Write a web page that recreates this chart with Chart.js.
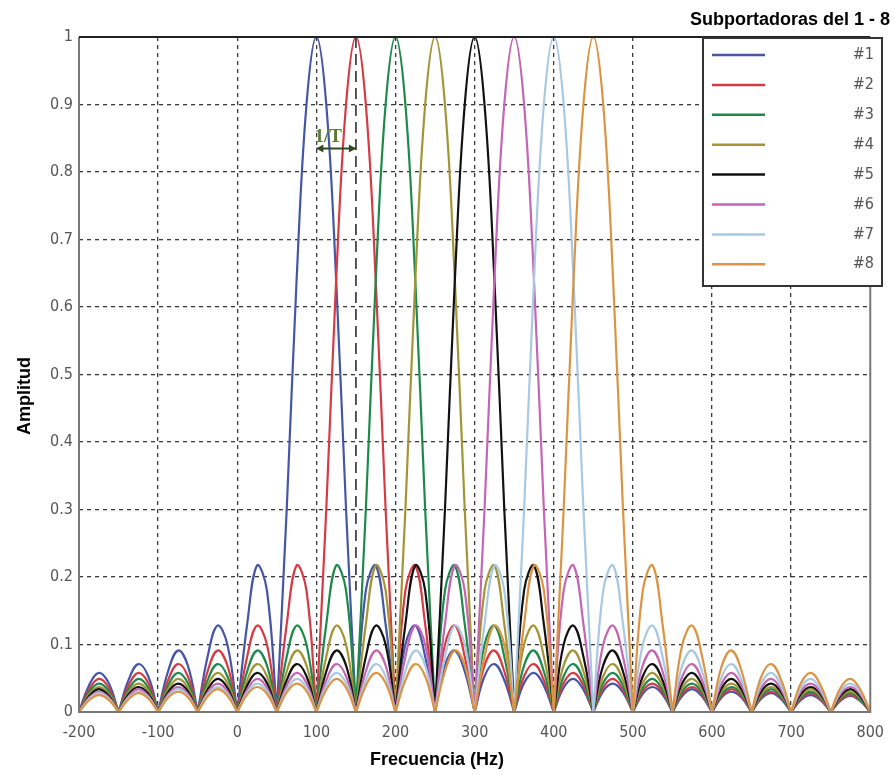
<!DOCTYPE html>
<html>
<head>
<meta charset="utf-8">
<script src="https://cdn.jsdelivr.net/npm/chart.js@4.4.1/dist/chart.umd.min.js"></script>
<style>
  html, body { margin: 0; padding: 0; background: #fff; }
  #wrap { width: 895px; height: 775px; }
</style>
</head>
<body>
<div id="wrap"><canvas id="ofdmChart"></canvas></div>
<script>
const subcarriers = ['#1', '#2', '#3', '#4', '#5', '#6', '#7', '#8'];
const centres = [100, 150, 200, 250, 300, 350, 400, 450];
const colours = ['#4656a6', '#d63a44', '#1d8a4c', '#a39436', '#111111', '#c466b4', '#a9c9e2', '#dc9444'];

// shape of one subcarrier: amplitude vs distance from its centre (Hz)
const lobeOffsets = [
  0, 12.5, 25, 37.5, 50, 62.5, 75, 87.5, 100, 112.5, 125, 137.5, 150,
  162.5, 175, 187.5, 200, 212.5, 225, 237.5, 250, 262.5, 275, 287.5, 300,
  312.5, 325, 337.5, 350, 362.5, 375, 387.5, 400, 412.5, 425, 437.5, 450,
  462.5, 475, 487.5, 500, 512.5, 525, 537.5, 550, 562.5, 575, 587.5, 600,
  612.5, 625, 637.5, 650, 662.5, 675, 687.5, 700
];
const lobeAmplitude = [
  1.00, 0.90, 0.64, 0.30, 0, 0.18, 0.217, 0.13, 0, 0.10, 0.128, 0.082, 0,
  0.069, 0.091, 0.060, 0, 0.053, 0.071, 0.047, 0, 0.043, 0.058, 0.039, 0,
  0.036, 0.049, 0.033, 0, 0.031, 0.042, 0.029, 0, 0.027, 0.037, 0.026, 0,
  0.024, 0.034, 0.023, 0, 0.022, 0.030, 0.021, 0, 0.020, 0.028, 0.019, 0,
  0.018, 0.025, 0.017, 0, 0.017, 0.024, 0.016, 0
];

const xTicks = [-200, -100, 0, 100, 200, 300, 400, 500, 600, 700, 800];
const yTicks = [0, 0.1, 0.2, 0.3, 0.4, 0.5, 0.6, 0.7, 0.8, 0.9, 1];

const tickFont = "'DejaVu Sans Condensed', 'Liberation Sans Narrow', 'Liberation Sans', sans-serif";
const boldFont = "'Liberation Sans', Arial, sans-serif";

function buildSeries(centre) {
  const full = [];
  for (let i = lobeOffsets.length - 1; i > 0; i--) full.push([-lobeOffsets[i], lobeAmplitude[i]]);
  for (let i = 0; i < lobeOffsets.length; i++) full.push([lobeOffsets[i], lobeAmplitude[i]]);
  const pts = [];
  full.forEach(([off, amp]) => {
    const x = centre + off;
    if (x < xTicks[0] || x > xTicks[xTicks.length - 1]) return;
    pts.push({ x: x, y: amp });
    // nulls repeated so the curve keeps its sharp notch
    if (amp === 0) pts.push({ x: x, y: amp });
  });
  return pts;
}

const decorations = {
  id: 'decorations',
  afterDatasetsDraw(chart) {
    const c = chart.ctx;
    const xs = chart.scales.x, ys = chart.scales.y;
    // spacing marker between subcarriers 1 and 2
    c.save();
    c.strokeStyle = '#222';
    c.lineWidth = 1.5;
    c.setLineDash([11, 6]);
    c.beginPath();
    c.moveTo(xs.getPixelForValue(150), ys.getPixelForValue(1));
    c.lineTo(xs.getPixelForValue(150), ys.getPixelForValue(0.18));
    c.stroke();
    c.setLineDash([]);
    const ax1 = xs.getPixelForValue(100), ax2 = xs.getPixelForValue(150), ay = ys.getPixelForValue(0.835);
    c.strokeStyle = '#2f4a22';
    c.fillStyle = '#2f4a22';
    c.lineWidth = 2;
    c.beginPath();
    c.moveTo(ax1, ay); c.lineTo(ax2, ay); c.stroke();
    c.beginPath();
    c.moveTo(ax1, ay); c.lineTo(ax1 + 7, ay - 4); c.lineTo(ax1 + 7, ay + 4); c.closePath(); c.fill();
    c.beginPath();
    c.moveTo(ax2, ay); c.lineTo(ax2 - 7, ay - 4); c.lineTo(ax2 - 7, ay + 4); c.closePath(); c.fill();
    c.fillStyle = '#5b7a34';
    c.font = "bold 19px 'Liberation Serif', serif";
    c.textAlign = 'left';
    c.textBaseline = 'alphabetic';
    c.fillText('1/T', ax1 - 2, ay - 6);
    c.restore();
  },
  afterDraw(chart) {
    const c = chart.ctx;
    const a = chart.chartArea;
    c.save();
    // frame
    c.lineWidth = 2;
    c.strokeStyle = '#777';
    c.beginPath();
    c.moveTo(a.left, a.top); c.lineTo(a.left, a.bottom); c.lineTo(a.right, a.bottom); c.lineTo(a.right, a.top);
    c.stroke();
    c.strokeStyle = '#222';
    c.beginPath();
    c.moveTo(a.left, a.top); c.lineTo(a.right, a.top);
    c.stroke();

    // legend box
    const lx = 703, ly = 38, lw = 179, lh = 248;
    c.fillStyle = '#fff';
    c.fillRect(lx, ly, lw, lh);
    c.strokeStyle = '#333';
    c.lineWidth = 2;
    c.strokeRect(lx, ly, lw, lh);
    c.font = '16px ' + tickFont;
    c.textAlign = 'right';
    c.textBaseline = 'middle';
    subcarriers.forEach((name, i) => {
      const y = 55 + i * 29.9;
      c.strokeStyle = colours[i];
      c.lineWidth = 2.5;
      c.beginPath();
      c.moveTo(712, y); c.lineTo(765, y);
      c.stroke();
      c.fillStyle = '#555';
      c.fillText(name, 874, y);
    });

    // titles
    c.fillStyle = '#000';
    c.font = 'bold 18px ' + boldFont;
    c.textAlign = 'right';
    c.textBaseline = 'alphabetic';
    c.fillText('Subportadoras del 1 - 8', 890, 25);
    c.textAlign = 'center';
    c.textBaseline = 'middle';
    c.fillText('Frecuencia (Hz)', 437, 760);
    c.translate(25, 396);
    c.rotate(-Math.PI / 2);
    c.fillText('Amplitud', 0, 0);
    c.restore();
  }
};

document.addEventListener('DOMContentLoaded', function() {
  const ctx = document.getElementById('ofdmChart').getContext('2d');
  const gridColour = function(context) {
    const v = context.tick ? context.tick.value : null;
    if (v === null) return 'rgba(0,0,0,0)';
    const first = context.scale.min, last = context.scale.max;
    return (Math.abs(v - first) < 1e-9 || Math.abs(v - last) < 1e-9) ? 'rgba(0,0,0,0)' : '#3a3a3a';
  };
  new Chart(ctx, {
    type: 'line',
    data: {
      datasets: subcarriers.map((name, i) => ({
        label: name,
        data: buildSeries(centres[i]),
        borderColor: colours[i],
        backgroundColor: colours[i],
        borderWidth: 2.2,
        pointRadius: 0,
        tension: 0.4,
        fill: false,
        order: subcarriers.length - i
      }))
    },
    options: {
      responsive: true,
      maintainAspectRatio: false,
      animation: false,
      layout: { padding: { left: 0, right: 17, top: 37, bottom: 0 } },
      plugins: {
        legend: { display: false },
        tooltip: { enabled: false },
        title: { display: false }
      },
      scales: {
        x: {
          type: 'linear',
          min: xTicks[0],
          max: xTicks[xTicks.length - 1],
          afterBuildTicks: scale => { scale.ticks = xTicks.map(v => ({ value: v })); },
          afterFit: scale => { scale.height = 63; },
          border: { display: false, dash: [4, 4] },
          grid: { color: gridColour, lineWidth: 1.3, drawTicks: false },
          ticks: { color: '#555', font: { family: tickFont, size: 16 }, padding: 11, maxRotation: 0 }
        },
        y: {
          min: 0,
          max: 1,
          afterBuildTicks: scale => { scale.ticks = yTicks.map(v => ({ value: v })); },
          afterFit: scale => { scale.width = 79; },
          border: { display: false, dash: [4, 4] },
          grid: { color: gridColour, lineWidth: 1.3, drawTicks: false },
          ticks: {
            color: '#555',
            font: { family: tickFont, size: 16 },
            padding: 6,
            callback: v => String(Math.round(v * 10) / 10)
          }
        }
      }
    },
    plugins: [decorations]
  });
});
</script>
</body>
</html>
